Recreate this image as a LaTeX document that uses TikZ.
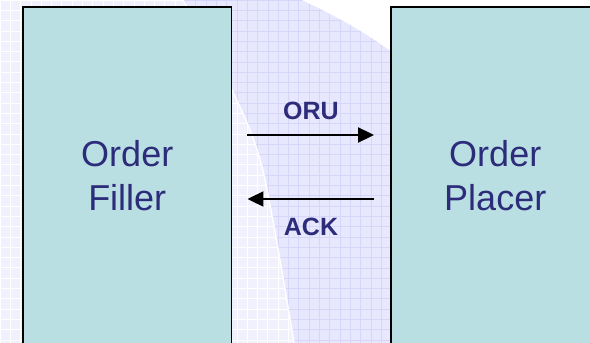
\documentclass[tikz,border=0pt]{standalone}
\usepackage{fontspec}
\setmainfont{Liberation Sans}
\usetikzlibrary{arrows.meta}
\definecolor{boxfill}{HTML}{B9DFE2}
\definecolor{ink}{HTML}{2C2C7A}
\definecolor{paleback}{HTML}{F1F1FD}
\definecolor{band}{HTML}{E7E7FE}
\definecolor{bandgrid}{HTML}{D6D6F9}

\begin{document}
\begin{tikzpicture}[x=1pt,y=-1pt,
  actor/.style={draw=black, line width=1.9pt, fill=boxfill,
    minimum width=208.5pt, minimum height=336.5pt, inner sep=0pt,
    font=\fontsize{36}{44}\selectfont, text=ink, align=center},
  msg/.style={line width=2pt, -{Triangle[length=16pt,width=15pt]}},
  msglabel/.style={font=\fontsize{25}{30}\selectfont\bfseries, text=ink, anchor=base}]
\useasboundingbox (0,0) rectangle (590,343);
\clip (0,0) rectangle (590,343);

% pale backdrop with a white grid
\fill[paleback] (0,0) rectangle (590,343);
\draw[white, line width=0.8pt, step=10.3pt] (0,0) grid (600,350);

% lavender swoosh band with its own grid
\begin{scope}
  \clip plot[smooth] coordinates {(183,0) (232,90) (263,171) (294,343)}
    -- (600,343) -- (600,180) -- (392,52)
    .. controls (362,30) and (332,14) .. (302,0) -- cycle;
  \fill[band] (0,0) rectangle (600,350);
  \draw[bandgrid, line width=0.6pt, step=10.3pt] (0,0) grid (600,350);
\end{scope}

% plain white corner beyond the band
\fill[white] (302,0) .. controls (332,14) and (362,30) .. (392,52)
  -- (600,180) -- (600,0) -- cycle;

% bright edge of the band
\draw[white, line width=1.4pt] plot[smooth] coordinates {(183,0) (232,90) (263,171) (294,343)};

% actors
\node[actor] (filler) at (127.25,175.25) {Order\\Filler};
\node[actor] (placer) at (495.25,175.25) {Order\\Placer};

% messages
\coordinate (oruy) at (0,135);
\coordinate (acky) at (0,199);
\draw[msg, shorten <=15pt, shorten >=16pt] (filler.east |- oruy) -- (placer.west |- oruy);
\draw[msg, shorten <=16pt, shorten >=15pt] (placer.west |- acky) -- (filler.east |- acky);
\node[msglabel] (oru) at (311,119) {ORU};
\node[msglabel] (ack) at (311,235) {ACK};
\end{tikzpicture}
\end{document}
